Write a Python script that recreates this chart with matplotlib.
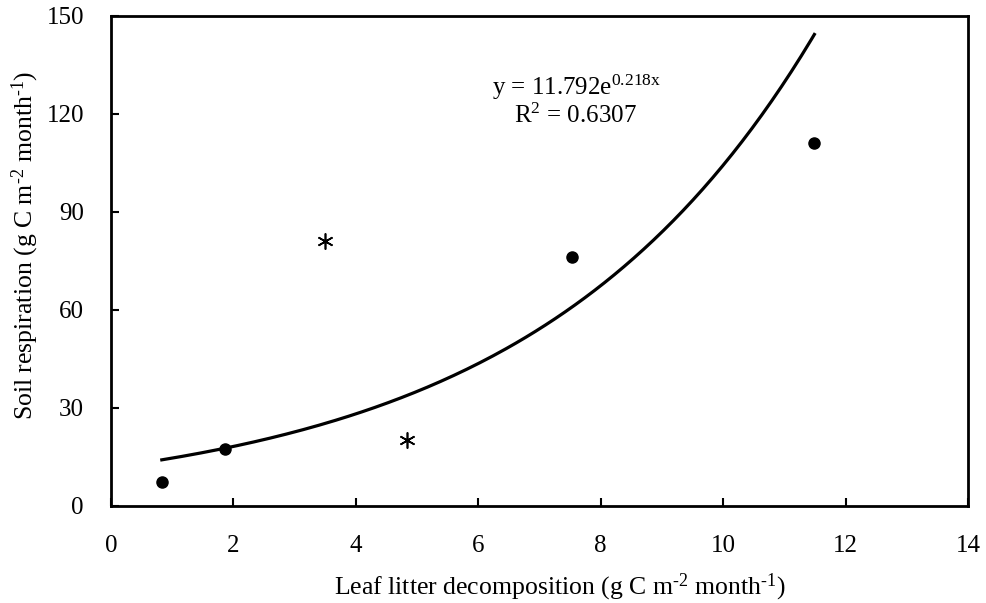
import numpy as np
import matplotlib
matplotlib.use("Agg")
import matplotlib.pyplot as plt

plt.rcParams['font.family'] = ['Liberation Serif', 'DejaVu Serif']
plt.rcParams['mathtext.fontset'] = 'custom'
plt.rcParams['mathtext.rm'] = 'Liberation Serif'
plt.rcParams['mathtext.it'] = 'Liberation Serif:italic'

# measured points
dot_x = [0.83, 1.87, 7.53, 11.49]
dot_y = [7.3, 17.5, 76.2, 111.0]
star_x = [3.50, 4.83]
star_y = [81.2, 20.2]

# exponential fit y = a * exp(b x)
fit_a = 11.792
fit_b = 0.218
fit_range = [0.83, 11.49]

W, H = 986, 603
fig = plt.figure(figsize=(W / 100, H / 100), dpi=100)
ax = fig.add_axes([111 / W, 1 - 506 / H, (968 - 111) / W, (506 - 16) / H])

xs = np.linspace(fit_range[0], fit_range[1], 200)
ax.plot(xs, fit_a * np.exp(fit_b * xs), color='black', lw=2.3)

ax.plot(dot_x, dot_y, 'o', color='black', ms=8)
ax.plot(star_x, star_y, linestyle='none', marker=(6, 2, 0), color='black', ms=11.5, mew=1.2)

ax.set_xlim(0, 14)
ax.set_ylim(0, 150)
ax.set_xticks(range(0, 15, 2))
ax.set_yticks(range(0, 151, 30))
ax.tick_params(direction='in', length=6, width=1.5, labelsize=18)
ax.tick_params(axis='x', pad=21)
ax.tick_params(axis='y', pad=19.5)
for s in ax.spines.values():
    s.set_linewidth(2)

hy = '\u2010'
fig.text(560 / W, (H - 594) / H,
         'Leaf litter decomposition (g C m$^{' + hy + '2}$ month$^{' + hy + '1}$)',
         fontsize=18.5, ha='center', va='baseline')
fig.text(25 / W, (H - 245) / H,
         'Soil respiration (g C m$^{' + hy + '2}$ month$^{' + hy + '1}$)',
         fontsize=18.5, ha='center', va='center', rotation=90)

ax.text(7.61, 125.8, 'y = 11.792e$^{\\mathrm{0.218x}}$', fontsize=18, ha='center', va='baseline')
ax.text(7.58, 117.2, 'R$^{2}$ = 0.6307', fontsize=18, ha='center', va='baseline')

fig.savefig('out.png', dpi=100)
